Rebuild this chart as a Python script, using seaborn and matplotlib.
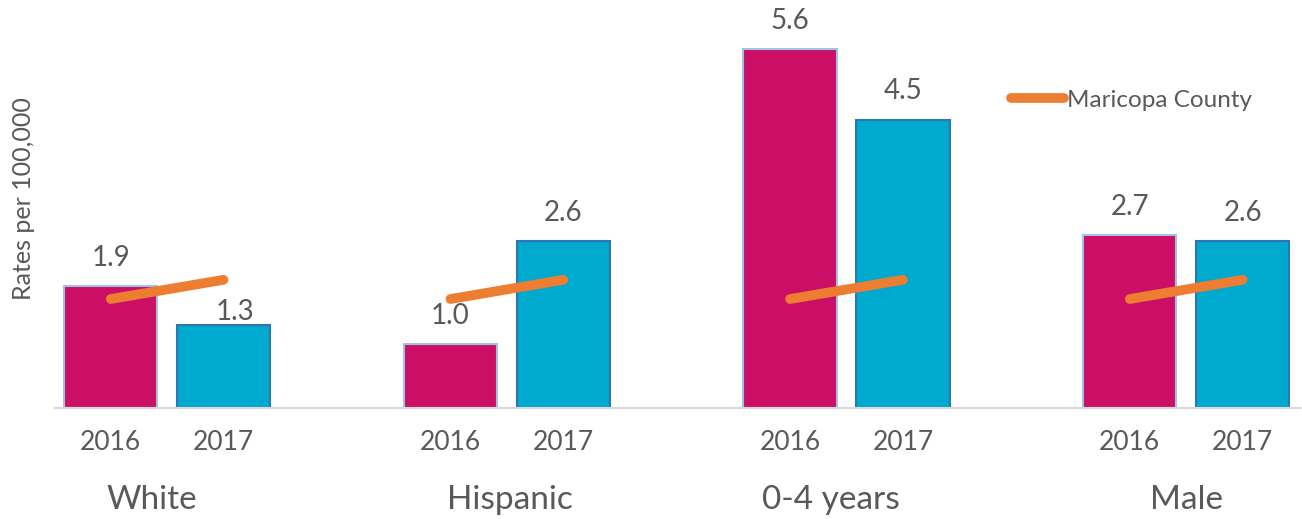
import pandas as pd
import matplotlib
matplotlib.use("Agg")
import matplotlib.pyplot as plt
import seaborn as sns

# ==================== data ====================
GROUPS = ["White", "Hispanic", "0-4 years", "Male"]
YEARS = ["2016", "2017"]
RATE_2016 = [1.9, 1.0, 5.6, 2.7]
RATE_2017 = [1.3, 2.6, 4.5, 2.6]
COUNTY = [1.7, 2.0]  # Maricopa County, 2016 -> 2017

COL_2016 = "#CC0F66"
COL_2017 = "#00A9CE"
EDGE_2016 = "#9DC3E6"
EDGE_2017 = "#2E75B6"
COL_LINE = "#ED7D31"
TXT = "#595959"

sns.set_style("white")
plt.rcParams["font.family"] = ["Lato", "DejaVu Sans"]

df = pd.DataFrame({
    "group": GROUPS * 2,
    "year": [YEARS[0]] * 4 + [YEARS[1]] * 4,
    "rate": RATE_2016 + RATE_2017,
})

fig = plt.figure(figsize=(13.02, 5.19), dpi=100)
ax = fig.add_axes([55 / 1302, 1 - 408 / 519, 1245 / 1302, (408 - 10.6) / 519])

sns.barplot(data=df, x="group", y="rate", hue="year", order=GROUPS, hue_order=YEARS,
            palette=[COL_2016, COL_2017], saturation=1, width=0.665, gap=0.176,
            ax=ax, legend=False, linewidth=1.5)

# bar edges: light blue for 2016, darker blue for 2017
for cont, ec in zip(ax.containers, [EDGE_2016, EDGE_2017]):
    for p in cont:
        p.set_edgecolor(ec)

# value labels
off = 0.166
for cont, vals, sign in zip(ax.containers, [RATE_2016, RATE_2017], [-1, 1]):
    for i, (p, v) in enumerate(zip(cont, vals)):
        xc = p.get_x() + p.get_width() / 2
        dy = 0.24
        dx = 0
        if i == 0 and sign == 1:
            dy = 0.0
            dx = 0.035
        ax.text(xc + dx, v + dy, f"{v:.1f}", ha="center", va="bottom",
                fontsize=20, color=TXT, clip_on=False)

# Maricopa County lines
for i in range(len(GROUPS)):
    ax.plot([i - off, i + off], COUNTY, color=COL_LINE, lw=7,
            solid_capstyle="round", label="Maricopa County" if i == 0 else None)

ax.set_xlim(-0.33, 3.335)
ax.set_ylim(0, 6.2)
ax.set_yticks([])
ax.set_xticks([])
ax.set_xlabel("")
ax.set_ylabel("Rates per 100,000", fontsize=18, color=TXT)
ax.yaxis.set_label_coords(-0.016, 0.526)

for s in ["top", "right", "left"]:
    ax.spines[s].set_visible(False)
ax.spines["bottom"].set_color("#D9D9D9")
ax.spines["bottom"].set_linewidth(1.5)

# year labels and category labels
trans = ax.get_xaxis_transform()
for i in range(len(GROUPS)):
    for j, yr in enumerate(YEARS):
        ax.text(i + (2 * j - 1) * off, -0.087, yr, transform=trans, ha="center",
                va="center", fontsize=19, color=TXT)
cat_dx = [-0.045, 0.01, -0.045, 0.0]
for i, g in enumerate(GROUPS):
    ax.text(i + cat_dx[i], -0.232, g, transform=trans, ha="center", va="center",
            fontsize=24, color=TXT)

leg = ax.legend(loc="upper left", bbox_to_anchor=(0.76, 0.825), frameon=False,
                fontsize=17.5, handlelength=2.2, handletextpad=0.12,
                labelcolor=TXT, borderaxespad=0)

fig.savefig("out.png", dpi=100)
